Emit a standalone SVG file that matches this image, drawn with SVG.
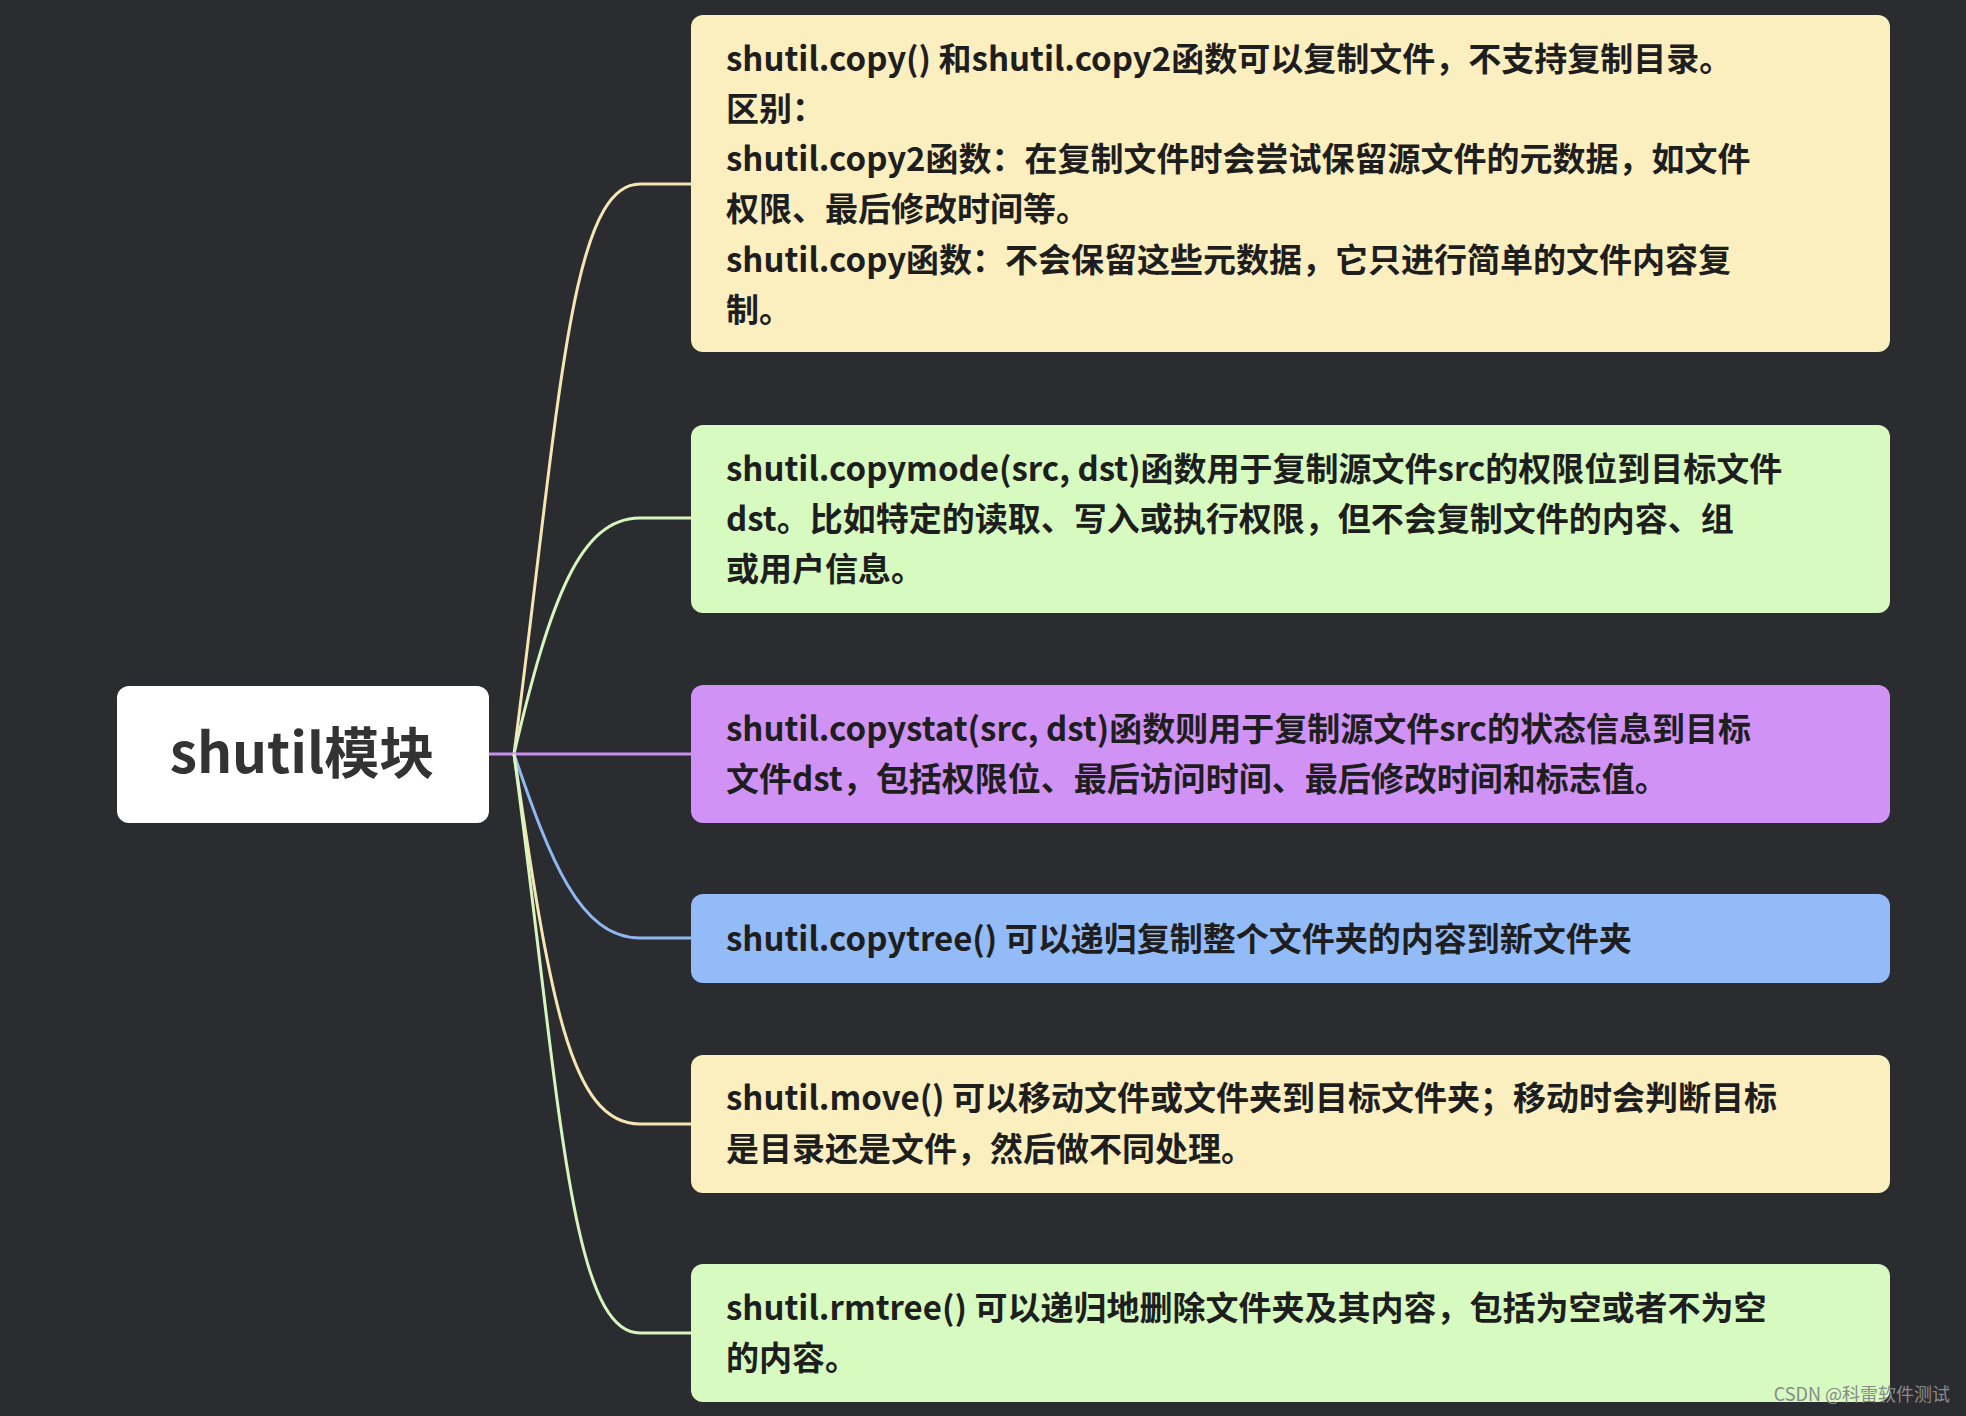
<svg xmlns="http://www.w3.org/2000/svg" width="1966" height="1416" viewBox="0 0 1966 1416">
<style>
.t{font-family:"Noto Sans CJK SC","Noto Sans",sans-serif;font-size:33px;font-weight:600;fill:#1e1e1e}
.c{fill:none;stroke-width:3}
</style>
<rect width="1966" height="1416" fill="#2b2c30"/>
<g id="connectors">
<path class="c" stroke="#f5e6b4" d="M514 754 C 560 400, 570 184, 640 184 H691"/>
<path class="c" stroke="#d6f5bf" d="M514 754 C 550 600, 580 518, 640 518 H691"/>
<path class="c" stroke="#c98ef0" d="M489 754 H691"/>
<path class="c" stroke="#8fb8f2" d="M514 754 C 550 860, 580 938, 640 938 H691"/>
<path class="c" stroke="#f5e6b4" d="M514 754 C 550 1000, 570 1124, 640 1124 H691"/>
<path class="c" stroke="#d6f5bf" d="M514 754 C 560 1100, 570 1333, 640 1333 H691"/>
</g>
<g id="root"><rect x="117" y="686" width="372" height="137" rx="12" fill="#ffffff"/>
<text x="302" y="773" text-anchor="middle" style="font-family:'Noto Sans CJK SC','Noto Sans',sans-serif;font-size:55px;font-weight:600;fill:#333">shutil模块</text></g>
<g id="n1"><rect x="691" y="15" width="1199" height="337" rx="12" fill="#fbefc0"/>
<text class="t" x="726" y="71">shutil.copy() 和shutil.copy2函数可以复制文件，不支持复制目录。</text>
<text class="t" x="726" y="121">区别：</text>
<text class="t" x="726" y="171">shutil.copy2函数：在复制文件时会尝试保留源文件的元数据，如文件</text>
<text class="t" x="726" y="221">权限、最后修改时间等。</text>
<text class="t" x="726" y="272">shutil.copy函数：不会保留这些元数据，它只进行简单的文件内容复</text>
<text class="t" x="726" y="322">制。</text></g>
<g id="n2"><rect x="691" y="425" width="1199" height="188" rx="12" fill="#d6fac0"/>
<text class="t" x="726" y="481">shutil.copymode(src, dst)函数用于复制源文件src的权限位到目标文件</text>
<text class="t" x="726" y="531">dst。比如特定的读取、写入或执行权限，但不会复制文件的内容、组</text>
<text class="t" x="726" y="581">或用户信息。</text></g>
<g id="n3"><rect x="691" y="685" width="1199" height="138" rx="12" fill="#d092f5"/>
<text class="t" x="726" y="741">shutil.copystat(src, dst)函数则用于复制源文件src的状态信息到目标</text>
<text class="t" x="726" y="791">文件dst，包括权限位、最后访问时间、最后修改时间和标志值。</text></g>
<g id="n4"><rect x="691" y="894" width="1199" height="89" rx="12" fill="#92bbf7"/>
<text class="t" x="726" y="951">shutil.copytree() 可以递归复制整个文件夹的内容到新文件夹</text></g>
<g id="n5"><rect x="691" y="1055" width="1199" height="138" rx="12" fill="#fbefc0"/>
<text class="t" x="726" y="1110">shutil.move() 可以移动文件或文件夹到目标文件夹；移动时会判断目标</text>
<text class="t" x="726" y="1161">是目录还是文件，然后做不同处理。</text></g>
<g id="n6"><rect x="691" y="1264" width="1199" height="138" rx="12" fill="#d6fac0"/>
<text class="t" x="726" y="1320">shutil.rmtree() 可以递归地删除文件夹及其内容，包括为空或者不为空</text>
<text class="t" x="726" y="1370">的内容。</text></g>
<text x="1950" y="1401" text-anchor="end" style="font-family:'Noto Sans CJK SC',sans-serif;font-size:18px;fill:#8a8a8a">CSDN @科雷软件测试</text>
</svg>
